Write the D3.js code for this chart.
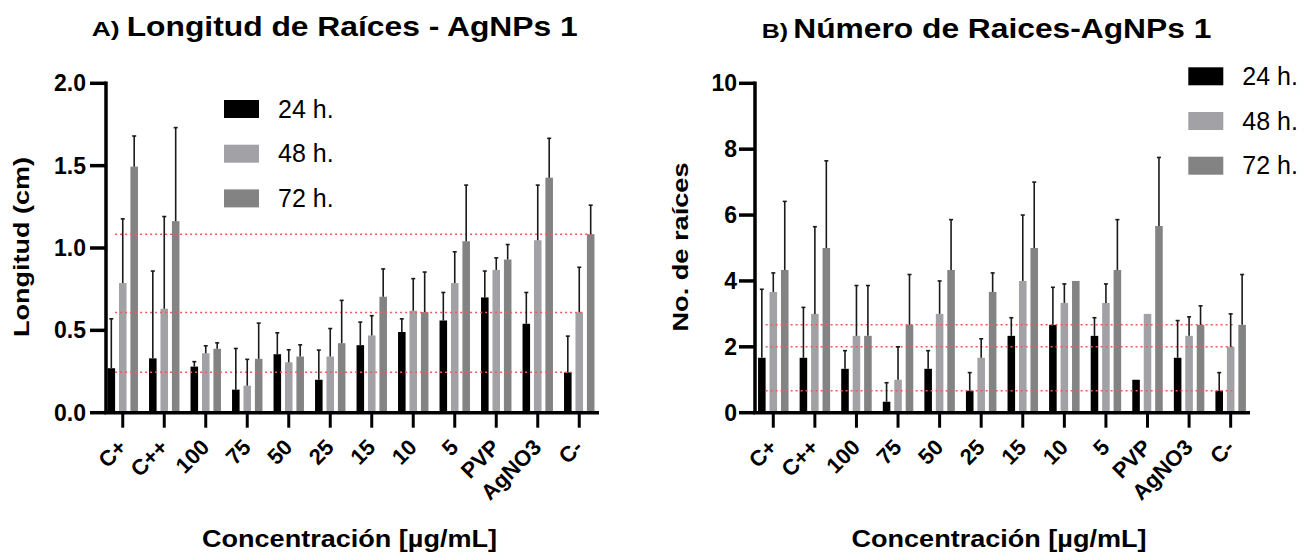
<!DOCTYPE html>
<html>
<head>
<meta charset="utf-8">
<script src="https://cdn.jsdelivr.net/npm/d3@7"></script>
<style>
  body { margin: 0; background: #fff; color: #000; }
  svg { font-family: "Liberation Sans", Arial, sans-serif; }
</style>
</head>
<body>
<div id="chart"></div>
<script>
// categories and series
const categories = ["C+", "C++", "100", "75", "50", "25", "15", "10", "5", "PVP", "AgNO3", "C-"];
const seriesNames = ["24 h.", "48 h.", "72 h."];
const seriesColors = ["#000000", "#a2a2a6", "#838383"];

// A) root length (cm): means and SD
const lenMean24 = [0.27, 0.33, 0.28, 0.14, 0.355, 0.20, 0.41, 0.49, 0.56, 0.70, 0.54, 0.245];
const lenSd24   = [0.30, 0.53, 0.03, 0.25, 0.13, 0.18, 0.14, 0.08, 0.17, 0.16, 0.19, 0.22];
const lenMean48 = [0.787, 0.631, 0.361, 0.164, 0.306, 0.341, 0.469, 0.619, 0.787, 0.867, 1.047, 0.609];
const lenSd48   = [0.39, 0.56, 0.045, 0.16, 0.076, 0.17, 0.12, 0.195, 0.19, 0.073, 0.335, 0.274];
const lenMean72 = [1.494, 1.163, 0.388, 0.327, 0.341, 0.422, 0.704, 0.611, 1.041, 0.930, 1.427, 1.084];
const lenSd72   = [0.186, 0.568, 0.036, 0.217, 0.071, 0.26, 0.169, 0.243, 0.341, 0.091, 0.239, 0.176];
const lenTicks = [0, 0.5, 1.0, 1.5, 2.0];

// B) number of roots: means and SD
const numMean24 = [1.667, 1.667, 1.333, 0.333, 1.333, 0.667, 2.333, 2.667, 2.333, 1.0, 1.667, 0.667];
const numSd24   = [2.08, 1.53, 0.55, 0.577, 0.55, 0.55, 0.55, 1.14, 0.55, 0, 1.13, 0.55];
const numMean48 = [3.667, 3.0, 2.333, 1.0, 3.0, 1.667, 4.0, 3.333, 3.333, 3.0, 2.333, 2.0];
const numSd48   = [0.577, 2.646, 1.528, 1.0, 1.0, 0.577, 2.0, 0.577, 0.577, 0, 0.577, 1.0];
const numMean72 = [4.333, 5.0, 2.333, 2.667, 4.333, 3.667, 5.0, 4.0, 4.333, 5.667, 2.667, 2.667];
const numSd72   = [2.082, 2.646, 1.528, 1.528, 1.528, 0.577, 2.0, 0, 1.528, 2.082, 0.577, 1.528];
const numTicks = [0, 2, 4, 6, 8, 10];

const svg = d3.select("#chart")
  .append("svg")
    .attr("width", 1306)
    .attr("height", 560);

const yBottom = 412.7, yTop = 83.3;
const axisW = 3.5;

function drawPanel(p) {
  const x = d3.scaleBand()
    .domain(categories)
    .range([p.bandStart, p.bandStart + p.step * categories.length])
    .paddingInner(0.267)
    .paddingOuter(0.1335);
  const xs = d3.scaleBand()
    .domain([0, 1, 2])
    .range([0, x.bandwidth()])
    .paddingInner(0.34);
  const y = d3.scaleLinear().domain(p.domain).range([yBottom, yTop]);

  const rows = [];
  p.means.forEach(function(m, s) {
    m.forEach(function(v, i) {
      rows.push({cat: categories[i], s: s, mean: v, sd: p.sds[s][i]});
    });
  });

  // bars
  svg.append("g").selectAll("rect")
    .data(rows)
    .join("rect")
      .attr("x", d => x(d.cat) + xs(d.s))
      .attr("y", d => y(d.mean))
      .attr("width", xs.bandwidth())
      .attr("height", d => y(0) - y(d.mean))
      .attr("fill", d => seriesColors[d.s]);

  // reference lines at the C- values
  const last = categories[categories.length - 1];
  const xStart = x(categories[0]) + xs(0) + xs.bandwidth();
  svg.append("g").selectAll("line")
    .data(p.means.map((m, s) => ({v: m[m.length - 1], s: s})))
    .join("line")
      .attr("x1", xStart)
      .attr("x2", d => x(last) + xs(p.refEnd[d.s]) + xs.bandwidth())
      .attr("y1", d => y(d.v))
      .attr("y2", d => y(d.v))
      .attr("stroke", "#f05a5a")
      .attr("stroke-width", 1.5)
      .attr("stroke-dasharray", "2,3");

  // error bars (upper only)
  const eb = svg.append("g")
    .attr("stroke", "#1a1a1a")
    .attr("stroke-width", 1.6);
  const withErr = rows.filter(d => d.sd > 0);
  eb.selectAll("line.v")
    .data(withErr)
    .join("line")
      .attr("class", "v")
      .attr("x1", d => x(d.cat) + xs(d.s) + xs.bandwidth() / 2)
      .attr("x2", d => x(d.cat) + xs(d.s) + xs.bandwidth() / 2)
      .attr("y1", d => y(d.mean))
      .attr("y2", d => y(d.mean + d.sd));
  eb.selectAll("line.c")
    .data(withErr)
    .join("line")
      .attr("class", "c")
      .attr("x1", d => x(d.cat) + xs(d.s) + xs.bandwidth() / 2 - 2)
      .attr("x2", d => x(d.cat) + xs(d.s) + xs.bandwidth() / 2 + 2)
      .attr("y1", d => y(d.mean + d.sd))
      .attr("y2", d => y(d.mean + d.sd));

  // axis lines and tick marks
  const ax = svg.append("g")
    .attr("stroke", "#000")
    .attr("stroke-width", axisW);
  ax.append("path")
    .attr("fill", "none")
    .attr("d", `M${p.axisX},${yTop - axisW / 2}V${yBottom}H${p.axisEnd}`);
  ax.selectAll("line.ty")
    .data(p.ticks)
    .join("line")
      .attr("class", "ty")
      .attr("x1", p.axisX - 16).attr("x2", p.axisX)
      .attr("y1", d => y(d)).attr("y2", d => y(d));
  ax.selectAll("line.tx")
    .data(categories)
    .join("line")
      .attr("class", "tx")
      .attr("stroke-width", 3)
      .attr("x1", d => x(d) + x.bandwidth() / 2).attr("x2", d => x(d) + x.bandwidth() / 2)
      .attr("y1", yBottom).attr("y2", yBottom + 15);

  // Y axis labels
  const gy = svg.append("g")
    .attr("transform", `translate(${p.axisX}, 0)`)
    .call(d3.axisLeft(y).tickValues(p.ticks).tickFormat(p.fmt)
      .tickSize(16).tickPadding(p.tickPad).tickSizeOuter(0));
  gy.select(".domain").remove();
  gy.selectAll(".tick line").remove();
  gy.selectAll("text")
    .attr("fill", "#000")
    .attr("font-size", 23)
    .attr("font-weight", "bold")
    .attr("font-family", "Liberation Sans, Arial, sans-serif");

  // X axis labels
  const gx = svg.append("g")
    .attr("transform", `translate(0, ${yBottom})`)
    .call(d3.axisBottom(x).tickSize(14).tickSizeOuter(0));
  gx.select(".domain").remove();
  gx.selectAll(".tick line").remove();
  gx.selectAll(".tick text")
    .attr("x", 0)
    .attr("y", 0)
    .attr("dy", 0)
    .attr("text-anchor", "end")
    .attr("transform", "translate(5, 36) rotate(-45)")
    .attr("fill", "#000")
    .attr("font-size", 22)
    .attr("font-weight", "bold")
    .attr("font-family", "Liberation Sans, Arial, sans-serif");

  // legend
  const lg = svg.append("g").selectAll("g")
    .data(seriesNames)
    .join("g")
      .attr("transform", (d, i) => `translate(${p.legend[0]}, ${p.legend[1] + i * 44.7})`);
  lg.append("rect")
    .attr("width", 35)
    .attr("height", 18)
    .attr("fill", (d, i) => seriesColors[i]);
  lg.append("text")
    .attr("x", 54)
    .attr("y", 9)
    .attr("dy", "0.35em")
    .attr("font-size", 25)
    .text(d => d);

  // title
  svg.append("text")
    .attr("x", p.title.x)
    .attr("y", p.title.y)
    .attr("font-weight", "bold")
    .attr("font-size", 21)
    .attr("textLength", p.title.lenA)
    .attr("lengthAdjust", "spacingAndGlyphs")
    .text(p.title.a);
  svg.append("text")
    .attr("x", p.title.x2)
    .attr("y", p.title.y)
    .attr("font-weight", "bold")
    .attr("font-size", 27)
    .attr("textLength", p.title.len)
    .attr("lengthAdjust", "spacingAndGlyphs")
    .text(p.title.text);

  // axis titles
  svg.append("text")
    .attr("transform", `translate(${p.yLabel.x}, 247) rotate(-90)`)
    .attr("text-anchor", "middle")
    .attr("font-weight", "bold")
    .attr("font-size", 22)
    .attr("textLength", p.yLabel.len)
    .attr("lengthAdjust", "spacingAndGlyphs")
    .text(p.yLabel.text);
  svg.append("text")
    .attr("x", p.xLabelX)
    .attr("y", 546.7)
    .attr("text-anchor", "middle")
    .attr("font-weight", "bold")
    .attr("font-size", 24)
    .attr("textLength", 295)
    .attr("lengthAdjust", "spacingAndGlyphs")
    .text("Concentración [µg/mL]");
}

drawPanel({
  axisX: 106, axisEnd: 599, bandStart: 102, step: 41.5,
  domain: [0, 2], ticks: lenTicks, fmt: d3.format(".1f"), tickPad: 4,
  means: [lenMean24, lenMean48, lenMean72],
  sds: [lenSd24, lenSd48, lenSd72],
  refEnd: [0, 1, 2],
  legend: [224, 100],
  title: {x: 91.7, x2: 126.7, y: 36, a: "A)", lenA: 28, text: "Longitud de Raíces - AgNPs 1", len: 451},
  yLabel: {x: 29, text: "Longitud (cm)", len: 180},
  xLabelX: 349.5
});

drawPanel({
  axisX: 755, axisEnd: 1250, bandStart: 752.5, step: 41.58,
  domain: [0, 10], ticks: numTicks, fmt: d3.format("d"), tickPad: 2,
  means: [numMean24, numMean48, numMean72],
  sds: [numSd24, numSd48, numSd72],
  refEnd: [1, 1, 1],
  legend: [1188.3, 67.3],
  title: {x: 761.7, x2: 793.3, y: 37.5, a: "B)", lenA: 26.3, text: "Número de Raices-AgNPs 1", len: 418},
  yLabel: {x: 687.5, text: "No. de raíces", len: 169},
  xLabelX: 999
});
</script>
</body>
</html>
